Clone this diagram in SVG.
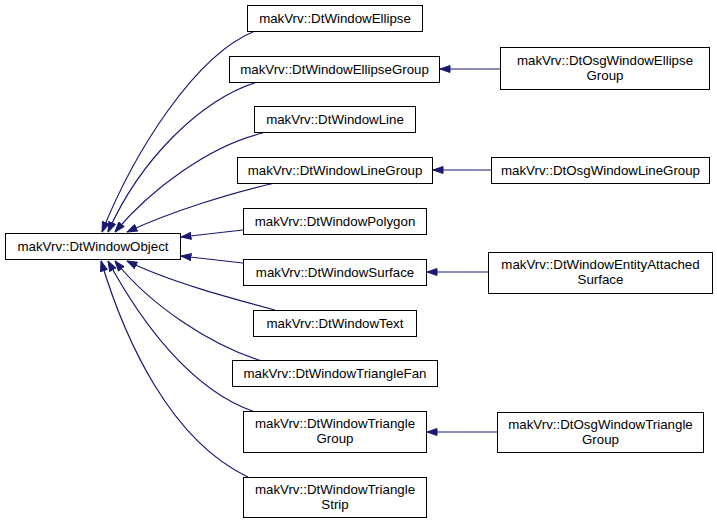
<svg xmlns="http://www.w3.org/2000/svg" width="717" height="523" viewBox="0 0 717 523">
<style>
.box{fill:#fff;stroke:#000;stroke-width:1}
.lbl{font-family:"Liberation Sans",Arial,sans-serif;font-size:13.3px;fill:#000;text-anchor:middle}
.edge{fill:none;stroke:#191970;stroke-width:1.2}
</style>
<defs>
<marker id="arr" viewBox="0 0 11 8" refX="10.5" refY="4" markerWidth="11" markerHeight="8" orient="auto" markerUnits="userSpaceOnUse">
<path d="M0.5,0.5 L10.5,4 L0.5,7.5 z" fill="#191970" stroke="#191970" stroke-width="1"/>
</marker>
</defs>
<rect width="717" height="523" fill="#fff"/>
<g id="edges">
<path class="edge" marker-end="url(#arr)" d="M255,31 C195,55 134,152 102,232"/>
<path class="edge" marker-end="url(#arr)" d="M257,82 C200,100 140,160 108,232"/>
<path class="edge" marker-end="url(#arr)" d="M263,133 C210,145 150,190 115,232"/>
<path class="edge" marker-end="url(#arr)" d="M275,183 C230,193 170,212 127,232"/>
<path class="edge" marker-end="url(#arr)" d="M243,230 L181,237"/>
<path class="edge" marker-end="url(#arr)" d="M243,263 L181,256"/>
<path class="edge" marker-end="url(#arr)" d="M275,310 C230,298 170,282 127,261"/>
<path class="edge" marker-end="url(#arr)" d="M262,361 C210,345 150,305 115,261"/>
<path class="edge" marker-end="url(#arr)" d="M255,412 C190,390 140,320 108,261"/>
<path class="edge" marker-end="url(#arr)" d="M248,477 C170,440 125,340 101,261"/>
<path class="edge" marker-end="url(#arr)" d="M500,69 L440,69"/>
<path class="edge" marker-end="url(#arr)" d="M491,170 L433,170"/>
<path class="edge" marker-end="url(#arr)" d="M488,272 L427,272"/>
<path class="edge" marker-end="url(#arr)" d="M497,432 L427,432"/>
</g>
<g id="DtWindowObject"><rect class="box" x="5.5" y="233.5" width="175" height="26"/><text class="lbl" x="93" y="251">makVrv::DtWindowObject</text></g>
<g id="DtWindowEllipse"><rect class="box" x="247.5" y="5.5" width="175" height="26"/><text class="lbl" x="335" y="23">makVrv::DtWindowEllipse</text></g>
<g id="DtWindowEllipseGroup"><rect class="box" x="229.5" y="56.5" width="210" height="26"/><text class="lbl" x="334.5" y="74">makVrv::DtWindowEllipseGroup</text></g>
<g id="DtWindowLine"><rect class="box" x="254.5" y="106.5" width="161" height="26"/><text class="lbl" x="335" y="124">makVrv::DtWindowLine</text></g>
<g id="DtWindowLineGroup"><rect class="box" x="237.5" y="157.5" width="195" height="26"/><text class="lbl" x="335" y="175">makVrv::DtWindowLineGroup</text></g>
<g id="DtWindowPolygon"><rect class="box" x="243.5" y="208.5" width="183" height="26"/><text class="lbl" x="335" y="226">makVrv::DtWindowPolygon</text></g>
<g id="DtWindowSurface"><rect class="box" x="243.5" y="259.5" width="183" height="26"/><text class="lbl" x="335" y="277">makVrv::DtWindowSurface</text></g>
<g id="DtWindowText"><rect class="box" x="253.5" y="310.5" width="163" height="26"/><text class="lbl" x="335" y="328">makVrv::DtWindowText</text></g>
<g id="DtWindowTriangleFan"><rect class="box" x="232.5" y="360.5" width="205" height="26"/><text class="lbl" x="335" y="378">makVrv::DtWindowTriangleFan</text></g>
<g id="DtWindowTriangleGroup"><rect class="box" x="243.5" y="411.5" width="183" height="41"/><text class="lbl" x="335" y="428">makVrv::DtWindowTriangle</text><text class="lbl" x="335" y="443">Group</text></g>
<g id="DtWindowTriangleStrip"><rect class="box" x="243.5" y="477.5" width="183" height="40"/><text class="lbl" x="335" y="494">makVrv::DtWindowTriangle</text><text class="lbl" x="335" y="509">Strip</text></g>
<g id="DtOsgWindowEllipseGroup"><rect class="box" x="500.5" y="47.5" width="209" height="42"/><text class="lbl" x="605" y="65">makVrv::DtOsgWindowEllipse</text><text class="lbl" x="605" y="80">Group</text></g>
<g id="DtOsgWindowLineGroup"><rect class="box" x="491.5" y="157.5" width="218" height="26"/><text class="lbl" x="600.5" y="175">makVrv::DtOsgWindowLineGroup</text></g>
<g id="DtWindowEntityAttachedSurface"><rect class="box" x="488.5" y="252.5" width="224" height="41"/><text class="lbl" x="600.5" y="269">makVrv::DtWindowEntityAttached</text><text class="lbl" x="600.5" y="284">Surface</text></g>
<g id="DtOsgWindowTriangleGroup"><rect class="box" x="497.5" y="412.5" width="206" height="40"/><text class="lbl" x="600.5" y="429">makVrv::DtOsgWindowTriangle</text><text class="lbl" x="600.5" y="444">Group</text></g>
</svg>
